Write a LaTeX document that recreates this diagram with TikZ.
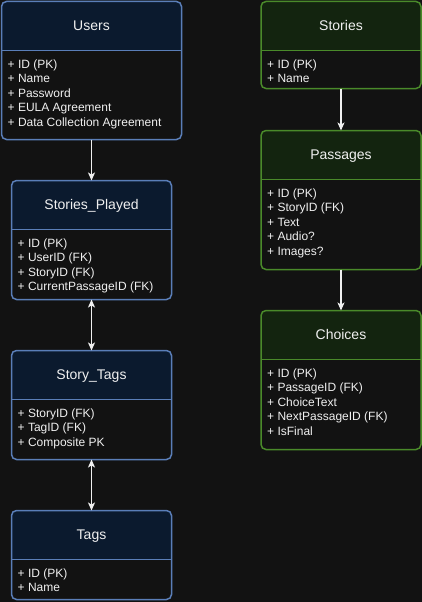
\documentclass[tikz,border=0pt]{standalone}
\usepackage{fontspec}
\setmainfont{Liberation Sans}
\usetikzlibrary{arrows.meta}

\definecolor{pagebg}{HTML}{121212}
\definecolor{bluehead}{HTML}{0B1A2E}
\definecolor{blueline}{HTML}{5A7EB8}
\definecolor{greenhead}{HTML}{13240F}
\definecolor{greenline}{HTML}{4A8A2A}
\definecolor{inktext}{HTML}{F0F0F0}

\tikzset{
  boxbody/.style={rectangle, fill=pagebg, rounded corners=5pt, outer sep=0pt, inner sep=0pt},
  boxline/.style={line width=1.5pt, rounded corners=5pt},
  titletext/.style={text=inktext, font=\fontsize{14}{16}\selectfont, anchor=base, inner sep=0pt},
  fieldtext/.style={text=inktext, font=\fontsize{12}{14.5}\selectfont, align=left,
    anchor=north west, inner sep=0pt},
  link/.style={draw=inktext, line width=1.2pt, -{Stealth[length=8pt, width=7pt, inset=2pt]}},
  twolink/.style={link, {Stealth[length=8pt, width=7pt, inset=2pt]}-{Stealth[length=8pt, width=7pt, inset=2pt]}},
}

% one table: name, centre x, top y, width, height, colour, title, fields
\newcommand{\ertable}[8]{%
  \node[boxbody, minimum width=#4pt, minimum height=#5pt, anchor=north] (#1) at (#2,#3) {};
  \begin{scope}
    \clip[rounded corners=5pt] (#1.south west) rectangle (#1.north east);
    \fill[#6head] (#1.north west) rectangle ([yshift=-49pt]#1.north east);
  \end{scope}
  \draw[#6line, line width=1.5pt] ([yshift=-49pt]#1.north west) -- ([yshift=-49pt]#1.north east);
  \draw[boxline, draw=#6line] (#1.south west) rectangle (#1.north east);
  \node[titletext] (#1-title) at ([yshift=-29pt]#1.north) {#7};
  \node[fieldtext] (#1-fields) at ([xshift=6pt, yshift=-58pt]#1.north west) {#8};
}

\begin{document}
\begin{tikzpicture}[x=1pt, y=-1pt]
    \useasboundingbox[fill=pagebg] (0,0) rectangle (422,602);

    % Left column
    \ertable{users}{91.5}{1.5}{180}{138}{blue}{Users}
      {+ ID (PK)\\+ Name\\+ Password\\+ EULA Agreement\\+ Data Collection Agreement}
    \ertable{played}{91.5}{180.5}{160}{119}{blue}{Stories\_Played}
      {+ ID (PK)\\+ UserID (FK)\\+ StoryID (FK)\\+ CurrentPassageID (FK)}
    \ertable{storytags}{91.5}{350.5}{160}{109}{blue}{Story\_Tags}
      {+ StoryID (FK)\\+ TagID (FK)\\+ Composite PK}
    \ertable{tags}{91.5}{510.5}{160}{89}{blue}{Tags}
      {+ ID (PK)\\+ Name}

    % Right column
    \ertable{stories}{341}{1.5}{160}{87}{green}{Stories}
      {+ ID (PK)\\+ Name}
    \ertable{passages}{341}{130.5}{160}{139}{green}{Passages}
      {+ ID (PK)\\+ StoryID (FK)\\+ Text\\+ Audio?\\+ Images?}
    \ertable{choices}{341}{310.5}{160}{139}{green}{Choices}
      {+ ID (PK)\\+ PassageID (FK)\\+ ChoiceText\\+ NextPassageID (FK)\\+ IsFinal}

    % Links
    \draw[link] (users.south) -- (played.north);
    \draw[twolink] (played.south) -- (storytags.north);
    \draw[twolink] (storytags.south) -- (tags.north);
    \draw[link] (stories.south) -- (passages.north);
    \draw[link] (passages.south) -- (choices.north);
\end{tikzpicture}
\end{document}
